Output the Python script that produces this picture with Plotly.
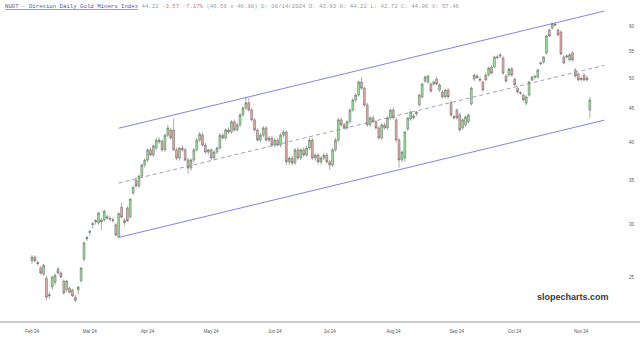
import pandas as pd
import plotly.graph_objects as go

# ---- data ----
holidays = ["2024-02-19", "2024-03-29", "2024-05-27", "2024-06-19", "2024-07-04", "2024-09-02"]
dates = pd.bdate_range("2024-02-01", "2024-11-06", freq="C", holidays=holidays)

opens = [26.45, 26.8, 26.3, 25.8, 25.25, 24.9, 23.4, 24.15, 24.55, 25.7,
         25.35, 24.65, 23.9, 24.05, 23.9, 23.3, 23.9, 24.7, 26.6, 28.55,
         29.2, 30.0, 30.3, 30.2, 30.5, 30.5, 30.85, 30.65, 30.55, 30.0,
         28.75, 31.9, 30.45, 31.8, 30.85, 33.5, 35.0, 34.35, 35.55, 36.95,
         37.6, 38.95, 38.25, 39.2, 40.3, 40.15, 38.95, 41.0, 41.75, 41.75,
         38.95, 37.85, 39.2, 38.95, 37.6, 36.55, 37.6, 38.95, 40.3, 41.0,
         39.6, 38.65, 38.95, 37.85, 38.65, 39.2, 41.0, 40.6, 41.75, 41.45,
         42.95, 41.75, 42.5, 44.0, 45.1, 45.9, 44.75, 43.25, 41.75, 40.3,
         41.0, 42.05, 40.3, 40.6, 39.6, 40.3, 39.6, 41.0, 41.45, 37.35,
         37.85, 37.2, 38.95, 37.85, 38.95, 38.25, 39.2, 40.3, 37.85, 38.25,
         37.35, 37.85, 38.25, 37.35, 36.95, 38.95, 40.3, 43.25, 42.5, 42.05,
         42.95, 44.75, 46.35, 47.15, 49.35, 48.3, 45.55, 42.5, 43.55, 42.95,
         42.05, 40.6, 42.5, 42.05, 43.55, 44.75, 43.25, 40.3, 37.6, 37.85,
         41.9, 43.4, 43.85, 44.15, 45.55, 46.85, 49.5, 49.35, 49.0, 49.0,
         49.85, 48.0, 47.65, 46.85, 48.0, 45.9, 43.75, 44.75, 44.0, 42.05,
         42.5, 42.95, 45.7, 49.85, 50.4, 49.85, 49.35, 50.55, 50.55, 52.0,
         52.0, 53.7, 54.0, 53.65, 50.4, 50.55, 51.65, 49.85, 48.3, 47.55,
         47.15, 45.85, 47.15, 49.7, 50.2, 50.2, 52.55, 52.9, 54.6, 59.15,
         59.55, 60.4, 59.15, 58.75, 53.85, 53.85, 53.3, 54.6, 51.45, 50.75,
         49.75, 50.55, 50.05, 44.75]
highs = [27.0, 26.95, 26.5, 26.0, 26.2, 25.1, 23.75, 25.1, 25.3, 25.9,
         25.5, 24.8, 24.75, 24.2, 24.0, 23.5, 24.2, 25.9, 28.3, 28.85,
         29.5, 30.3, 30.6, 31.35, 30.7, 31.6, 31.1, 30.9, 30.8, 30.2,
         31.3, 32.4, 30.7, 32.0, 32.9, 34.3, 35.4, 35.7, 37.1, 37.8,
         39.2, 39.3, 39.7, 40.6, 40.7, 40.4, 41.2, 42.5, 42.1, 43.4,
         39.3, 39.3, 39.6, 39.2, 37.9, 37.8, 39.2, 40.6, 41.5, 41.4,
         39.9, 39.1, 39.2, 38.9, 39.4, 41.3, 41.3, 42.0, 42.1, 43.2,
         43.3, 42.8, 44.3, 45.3, 46.9, 46.7, 45.1, 43.5, 42.0, 41.3,
         42.3, 42.3, 40.9, 40.9, 40.6, 40.6, 41.3, 41.8, 41.7, 38.1,
         38.2, 39.2, 39.3, 39.2, 39.3, 39.5, 40.6, 40.6, 38.5, 38.5,
         38.1, 38.5, 38.5, 37.6, 39.2, 40.6, 43.5, 43.6, 42.8, 43.2,
         45.0, 46.6, 47.5, 49.6, 50.2, 48.6, 45.9, 43.8, 43.9, 43.2,
         42.3, 42.7, 42.8, 43.8, 45.0, 45.1, 43.6, 40.6, 38.9, 41.6,
         43.6, 44.7, 44.2, 44.6, 47.4, 49.2, 50.5, 50.6, 49.3, 49.6,
         50.3, 49.1, 48.0, 48.2, 48.3, 46.3, 44.0, 45.0, 44.3, 43.5,
         43.9, 44.2, 48.6, 50.8, 50.8, 50.3, 49.6, 51.0, 52.1, 52.4,
         54.1, 54.3, 54.6, 54.0, 50.7, 51.9, 52.0, 50.1, 48.6, 47.8,
         47.4, 47.1, 49.6, 50.4, 50.6, 51.7, 53.0, 54.0, 58.2, 59.5,
         60.7, 60.7, 59.5, 59.1, 54.2, 54.4, 54.6, 55.0, 51.8, 51.0,
         50.3, 50.9, 50.4, 46.9]
lows = [26.15, 26.3, 26.0, 25.2, 25.1, 23.05, 23.15, 23.9, 24.3, 25.2,
        24.9, 23.5, 23.7, 23.6, 23.3, 22.9, 23.5, 24.5, 26.4, 28.35,
        28.9, 29.6, 30.0, 30.0, 29.45, 30.3, 30.5, 30.4, 30.2, 28.8,
        28.7, 30.7, 29.9, 30.3, 30.6, 33.3, 34.1, 34.1, 35.3, 36.6,
        37.3, 38.1, 38.0, 38.9, 39.8, 38.7, 38.7, 40.7, 40.4, 38.8,
        37.6, 37.5, 38.7, 37.4, 35.8, 36.2, 37.3, 38.7, 40.0, 39.4,
        38.4, 38.3, 37.6, 37.6, 38.4, 39.0, 40.4, 40.3, 41.2, 41.2,
        41.5, 41.5, 42.2, 43.7, 44.8, 44.5, 43.0, 41.5, 40.1, 40.0,
        40.7, 40.1, 40.0, 39.4, 39.3, 39.4, 39.3, 40.7, 36.95, 37.0,
        36.9, 37.0, 37.6, 37.6, 38.0, 38.0, 38.9, 37.6, 37.5, 37.1,
        37.0, 37.6, 37.1, 36.3, 36.7, 38.7, 40.0, 42.2, 41.8, 41.8,
        42.7, 44.5, 46.0, 46.9, 48.0, 45.3, 42.2, 42.2, 42.8, 41.8,
        40.4, 40.3, 41.8, 41.8, 43.3, 43.3, 40.0, 36.6, 37.3, 37.35,
        41.6, 43.1, 43.3, 43.8, 45.3, 46.6, 49.2, 49.0, 47.6, 48.7,
        48.8, 47.7, 46.6, 46.6, 46.6, 43.7, 43.3, 43.3, 41.5, 41.8,
        42.2, 42.7, 45.4, 49.5, 49.9, 49.3, 47.7, 49.5, 50.3, 50.7,
        51.7, 53.4, 53.6, 50.6, 49.3, 50.3, 50.3, 48.6, 47.4, 47.2,
        46.1, 45.5, 46.9, 49.4, 49.8, 49.9, 52.3, 52.6, 54.3, 57.7,
        59.3, 59.9, 57.9, 54.2, 52.5, 53.6, 53.0, 53.0, 50.1, 49.5,
        49.5, 49.5, 49.4, 43.55]
closes = [26.8, 26.45, 26.2, 25.35, 26.05, 23.3, 23.5, 25.0, 25.15, 25.35,
          25.0, 23.65, 24.65, 23.7, 23.4, 23.05, 24.15, 25.8, 28.15, 28.7,
          29.3, 30.1, 30.45, 31.25, 30.3, 31.45, 30.7, 30.6, 30.45, 28.95,
          31.2, 30.8, 30.2, 30.4, 32.8, 34.2, 34.35, 35.55, 36.95, 37.6,
          38.95, 38.25, 39.5, 40.3, 40.05, 38.95, 41.0, 42.05, 40.6, 38.95,
          37.85, 39.2, 38.95, 37.6, 36.55, 37.6, 38.95, 40.3, 41.15, 39.6,
          38.65, 38.95, 37.85, 38.65, 39.2, 41.0, 40.6, 41.75, 41.45, 42.95,
          41.75, 42.5, 44.0, 45.1, 45.9, 44.75, 43.25, 41.75, 40.3, 41.0,
          42.05, 40.3, 40.6, 39.6, 40.3, 39.6, 41.0, 41.45, 37.35, 37.85,
          37.2, 38.95, 37.85, 38.95, 38.25, 39.2, 40.3, 37.85, 38.25, 37.35,
          37.85, 38.25, 37.35, 36.95, 38.95, 40.3, 43.25, 42.5, 42.05, 42.95,
          44.75, 46.35, 47.15, 49.35, 48.3, 45.55, 42.5, 43.55, 42.95, 42.05,
          40.6, 42.5, 42.05, 43.55, 44.75, 43.55, 40.3, 37.6, 38.65, 41.45,
          43.55, 44.45, 43.55, 44.45, 47.15, 49.0, 50.2, 50.4, 47.8, 49.35,
          49.0, 48.85, 46.85, 48.0, 46.85, 44.0, 43.55, 43.55, 41.75, 43.25,
          43.7, 44.0, 48.3, 50.55, 50.1, 49.7, 48.0, 49.7, 51.8, 50.9,
          53.85, 53.85, 54.2, 50.9, 49.5, 51.65, 50.55, 48.85, 47.65, 47.45,
          46.35, 46.85, 49.35, 50.2, 50.3, 51.45, 52.75, 53.85, 57.95, 57.95,
          60.45, 60.2, 58.15, 54.4, 52.75, 54.05, 54.25, 53.3, 50.4, 49.7,
          49.95, 49.7, 49.75, 46.35]

# channel (start/end dates and prices)
chan_x = ["2024-03-15", "2024-11-13"]
chan_upper = [42.0, 63.2]
chan_mid = [34.7, 52.3]
chan_lower = [28.7, 43.2]

month_ticks = ["2024-02-01", "2024-03-01", "2024-04-01", "2024-05-01", "2024-06-03",
               "2024-07-01", "2024-08-01", "2024-09-03", "2024-10-01", "2024-11-01"]
month_labels = ["Feb 24", "Mar 24", "Apr 24", "May 24", "Jun 24",
                "Jul 24", "Aug 24", "Sep 24", "Oct 24", "Nov 24"]
price_ticks = [25, 30, 35, 40, 45, 50, 55, 60]

n = min(len(dates), len(opens), len(highs), len(lows), len(closes))
dates = dates[:n]

fig = go.Figure()
fig.add_trace(go.Candlestick(
    x=dates, open=opens[:n], high=highs[:n], low=lows[:n], close=closes[:n],
    increasing=dict(fillcolor="#98e698", line=dict(color="#5e5e5e", width=0.5)),
    decreasing=dict(fillcolor="#eeaaaa", line=dict(color="#5e5e5e", width=0.5)),
    whiskerwidth=0, hoverinfo="skip", showlegend=False))

fig.add_trace(go.Scatter(x=chan_x, y=chan_upper, mode="lines",
                         line=dict(color="#7676e0", width=0.9), hoverinfo="skip"))
fig.add_trace(go.Scatter(x=chan_x, y=chan_lower, mode="lines",
                         line=dict(color="#7676e0", width=0.9), hoverinfo="skip"))
fig.add_trace(go.Scatter(x=chan_x, y=chan_mid, mode="lines",
                         line=dict(color="#8686aa", width=0.8, dash="4px,3px"), hoverinfo="skip"))

title_html = ('<span style="color:#5252a8"><u>NUGT - Direxion Daily Gold Miners Index</u></span>'
              ' <span style="color:#9a9a9a">44.22</span>'
              ' <span style="color:#e07272">-3.57 -7.17%</span>'
              ' <span style="color:#9a9a9a">(46.56 x 46.80) D: 08/14/2024 O: 43.93 H: 44.22'
              ' L: 42.72 C: 44.06 V: 57.46</span>')

fig.update_layout(
    width=640, height=342,
    margin=dict(l=0, r=12, t=0, b=20),
    paper_bgcolor="white", plot_bgcolor="white",
    showlegend=False,
    boxgap=0.08,
    xaxis=dict(type="date",
               range=["2024-01-16 22:20", "2024-11-25 05:00"],
               rangebreaks=[dict(bounds=["sat", "mon"]), dict(values=holidays)],
               rangeslider=dict(visible=False),
               tickvals=month_ticks, ticktext=month_labels,
               tickfont=dict(family="Liberation Sans", size=4.5, color="#555555"),
               showgrid=False, showline=False, zeroline=False, ticks="",
               ticklabelstandoff=5),
    yaxis=dict(type="log", range=[1.3298, 1.8175], side="right",
               tickvals=price_ticks, ticktext=[str(v) for v in price_ticks],
               tickfont=dict(family="Liberation Sans", size=4.5, color="#555555"),
               showgrid=False, showline=False, zeroline=False, ticks=""),
    shapes=[dict(type="line", xref="paper", yref="paper", x0=0, x1=640 / 628, y0=0, y1=0,
                 line=dict(color="#9a9a9a", width=1))],
    annotations=[
        dict(text=title_html, xref="paper", yref="paper", x=0, y=1,
             xanchor="left", yanchor="top", xshift=3, yshift=-1, showarrow=False,
             font=dict(family="Liberation Mono", size=5.7, color="#9a9a9a")),
        dict(text="<b>slopecharts.com</b>", xref="paper", yref="paper",
             x=611 / 628, y=(322 - 297) / 322, xanchor="right", yanchor="middle",
             showarrow=False, font=dict(family="Liberation Sans", size=9, color="#3a3a3a")),
    ],
)

fig.write_html("out.html")
